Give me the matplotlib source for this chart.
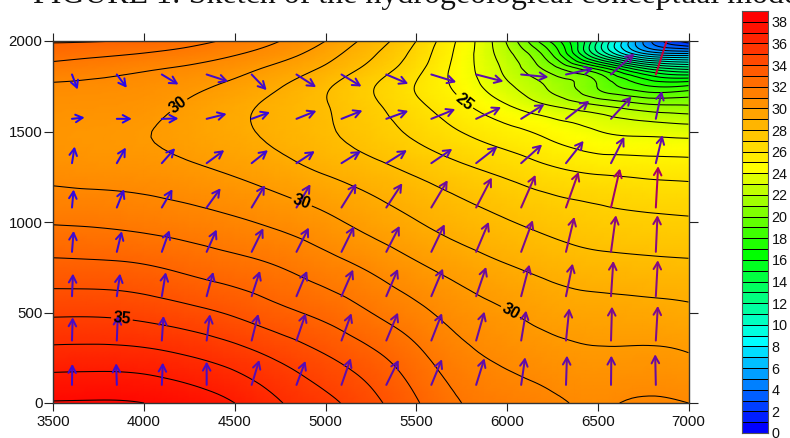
import numpy as np
import matplotlib
matplotlib.use("Agg")
import matplotlib.pyplot as plt
import matplotlib.tri as mtri
from matplotlib.colors import LinearSegmentedColormap, Normalize
from matplotlib.patches import FancyArrowPatch

plt.rcParams['font.family'] = ['Liberation Sans', 'DejaVu Sans']

title = "FIGURE 1: Sketch of the hydrogeological conceptual model"

# head field
grid_x = [3500, 3750, 4000, 4250, 4500, 4750, 5000, 5250, 5500, 5750, 6000, 6250, 6500, 6750, 7000]
grid_y = [0, 250, 500, 750, 1000, 1250, 1500, 1650, 1750, 1850, 1925, 2000]
h_0    = [38.07, 38.1, 38.0, 37.6, 37.0, 36.05, 35.3, 34.3, 33.1, 32.0, 31.6, 31.2, 30.85, 31.15, 31.0]
h_250  = [36.47, 36.5, 36.4, 36.06, 35.55, 34.85, 34.1, 33.3, 32.3, 31.33, 30.8, 30.42, 30.2, 30.25, 30.1]
h_500  = [34.83, 34.83, 34.65, 34.3, 33.84, 33.25, 32.7, 32.0, 31.27, 30.54, 30.05, 29.6, 29.41, 29.33, 29.2]
h_750  = [33.3, 33.25, 33.1, 32.75, 32.4, 32.0, 31.45, 30.85, 30.17, 29.57, 29.08, 28.67, 28.42, 28.31, 28.23]
h_1000 = [31.92, 31.84, 31.68, 31.45, 31.15, 30.76, 30.25, 29.63, 29.04, 28.5, 28.06, 27.67, 27.37, 27.22, 27.13]
h_1250 = [30.8, 30.7, 30.6, 30.35, 30.0, 29.55, 29.05, 28.55, 28.0, 27.44, 26.93, 26.41, 26.1, 25.93, 25.82]
h_1500 = [30.3, 30.2, 30.05, 29.65, 29.2, 28.72, 28.15, 27.5, 26.77, 25.98, 25.3, 24.65, 24.03, 23.73, 23.57]
h_1650 = [30.55, 30.5, 30.35, 29.88, 29.3, 28.72, 28.05, 27.2, 26.2, 25.15, 24.0, 22.85, 21.9, 21.1, 20.9]
h_1750 = [30.85, 30.75, 30.6, 30.25, 29.75, 29.05, 28.15, 27.1, 25.95, 24.65, 23.2, 21.75, 19.95, 18.2, 18.15]
h_1850 = [31.66, 31.45, 31.15, 30.85, 30.4, 29.7, 28.85, 27.7, 26.33, 24.5, 22.7, 20.4, 17.6, 14.0, 12.5]
h_1925 = [32.37, 32.15, 31.9, 31.55, 31.05, 30.4, 29.4, 28.15, 26.64, 24.57, 22.35, 19.0, 12.5, 7.5, 6.5]
h_2000 = [33.1, 33.05, 32.85, 32.35, 31.75, 31.0, 30.0, 28.6, 27.0, 24.7, 21.9, 17.7, 12.0, 5.0, 1.5]
head_rows = [h_0, h_250, h_500, h_750, h_1000, h_1250, h_1500, h_1650, h_1750, h_1850, h_1925, h_2000]

# velocity vectors
arrow_x = [3603, 3850, 4098, 4345, 4593, 4840, 5088, 5335, 5583, 5830, 6078, 6325, 6573, 6820]
arrow_y = [100, 345, 590, 835, 1080, 1325, 1570, 1815]
u_100  = [1, -2, 3, 0, 23, 27, 28, 37, 32, 25, 12, 3, 1, -2]
v_100  = [63, 65, 67, 70, 75, 72, 80, 75, 77, 80, 83, 88, 88, 92]
u_345  = [2, 3, 5, 10, 20, 28, 30, 35, 32, 25, 15, 10, 3, 6]
v_345  = [70, 75, 74, 79, 80, 82, 82, 84, 82, 87, 90, 97, 102, 104]
u_590  = [3, 10, 12, 20, 25, 32, 35, 35, 35, 30, 25, 20, 7, 6]
v_590  = [68, 68, 72, 73, 76, 76, 80, 82, 83, 88, 95, 98, 106, 108]
u_835  = [5, 15, 23, 30, 35, 37, 38, 40, 40, 38, 35, 25, 15, 5]
v_835  = [63, 62, 65, 67, 71, 73, 77, 78, 83, 90, 95, 105, 110, 110]
u_1080 = [5, 22, 32, 42, 40, 42, 45, 48, 49, 47, 43, 38, 27, 7]
v_1080 = [54, 55, 55, 58, 67, 70, 72, 73, 82, 90, 98, 107, 117, 124]
u_1325 = [8, 27, 40, 53, 49, 55, 58, 62, 63, 64, 63, 53, 40, 20]
v_1325 = [50, 47, 45, 39, 39, 36, 36, 39, 43, 50, 56, 67, 79, 84]
u_1570 = [38, 45, 50, 60, 55, 60, 63, 66, 72, 75, 70, 70, 62, 18]
v_1570 = [4, 0, 1, 15, 20, 24, 25, 24, 29, 35, 44, 54, 67, 84]
u_1815 = [17, 30, 50, 65, 45, 59, 60, 66, 75, 82, 82, 82, 70, 42]
v_1815 = [-45, -40, -30, -21, -47, -38, -36, -28, -23, -21, -8, 18, 63, 130]
u_rows = [u_100, u_345, u_590, u_835, u_1080, u_1325, u_1570, u_1815]
v_rows = [v_100, v_345, v_590, v_835, v_1080, v_1325, v_1570, v_1815]

label_points = [(4179, 1657), (4865, 1100), (5765, 1665), (6015, 497), (3878, 463)]
label_levels = [25, 30, 35]
x_ticks = [3500, 4000, 4500, 5000, 5500, 6000, 6500, 7000]
y_ticks = [0, 500, 1000, 1500, 2000]

W, H = 790, 438
fig = plt.figure(figsize=(W / 100, H / 100), dpi=100)
def axes_px(l, t, r, b):
    return fig.add_axes([l / W, 1 - b / H, (r - l) / W, (b - t) / H])

ax = axes_px(53.3, 41, 688.5, 403)
ax.set_xlim(3500, 7000)
ax.set_ylim(0, 2000)

cmap = LinearSegmentedColormap.from_list(
    "head",
    [(0, "#0000ff"), (0.5 / 39, "#0000ff"), (8.5 / 39, "#00ffff"), (16.5 / 39, "#00ff00"),
     (24.5 / 39, "#ffff00"), (38.5 / 39, "#ff0000"), (1, "#ff0000")], N=512)
norm = Normalize(0, 39)

# field on a triangulated grid, refined by matplotlib's cubic interpolator
gx, gy = np.meshgrid(grid_x, grid_y)
nx, ny = len(grid_x), len(grid_y)
tris = []
for j in range(ny - 1):
    for i in range(nx - 1):
        a = j * nx + i
        tris += [[a, a + 1, a + nx + 1], [a, a + nx + 1, a + nx]]
tri = mtri.Triangulation(gx.ravel(), gy.ravel(), tris)
refined, zf = mtri.UniformTriRefiner(tri).refine_field(np.array(head_rows, float).ravel(), subdiv=3)

ax.tripcolor(refined, zf, shading='gouraud', cmap=cmap, norm=norm, zorder=1)
other_levels = [v for v in range(1, 39) if v not in label_levels]
ax.tricontour(refined, zf, levels=other_levels, colors='black', linewidths=0.75, zorder=2)
cs = ax.tricontour(refined, zf, levels=label_levels, colors='black', linewidths=0.75, zorder=2)
labels = ax.clabel(cs, manual=label_points, fmt='%d', fontsize=11.5, inline=True, inline_spacing=2)
for t in labels:
    t.set_fontweight('bold')
    t.set_zorder(6)

# arrows
arrow_cmap = LinearSegmentedColormap.from_list(
    "speed", [(0, "#2408f0"), (0.4, "#5a0cb0"), (0.7, "#860a84"), (0.87, "#a80060"), (1, "#c80038")])
arrow_norm = Normalize(45, 137)
kx, ky = 5.5 / 3, 5.525 / 3
for yy, us, vs in zip(arrow_y, u_rows, v_rows):
    for xx, uu, vv in zip(arrow_x, us, vs):
        c = arrow_cmap(arrow_norm(np.hypot(uu, vv)))
        ax.add_patch(FancyArrowPatch((xx, yy), (xx + uu * kx, yy + vv * ky),
                                     arrowstyle='->,head_length=0.5,head_width=0.27',
                                     mutation_scale=10, color=c, lw=1.45,
                                     shrinkA=0, shrinkB=0, zorder=4))

ax.set_xticks(x_ticks)
ax.set_yticks(y_ticks)
ax.tick_params(axis='both', which='major', direction='out', length=5.5, width=0.8,
               color='#222222', labelsize=10.8, labelcolor='#111111',
               top=True, right=True, labeltop=False, labelright=False)
ax.tick_params(axis='x', pad=3)
ax.tick_params(axis='y', pad=1.5, length=6.2)
for s in ax.spines.values():
    s.set_linewidth(1.0)
    s.set_color('#333333')

# colour scale
cax = axes_px(741.5, 11, 768, 433)
vals = np.arange(39) + 0.5
cax.pcolormesh([0, 1], np.arange(40), vals[:, None], cmap=cmap, norm=norm,
               edgecolors='black', linewidth=0.7)
cax.set_xticks([])
cax.set_ylim(0, 39)
cax.set_yticks(np.arange(0, 39, 2))
cax.yaxis.tick_right()
cax.tick_params(axis='y', length=0, pad=2.5, labelsize=10.4, labelcolor='#111111')
for s in cax.spines.values():
    s.set_linewidth(0.8)
    s.set_color('#555555')

fig.text(33 / W, 1 - 3.5 / H, title, family='Liberation Serif', fontsize=22.95,
         ha='left', va='baseline', color='#111111')

fig.savefig("out.png", dpi=100)
